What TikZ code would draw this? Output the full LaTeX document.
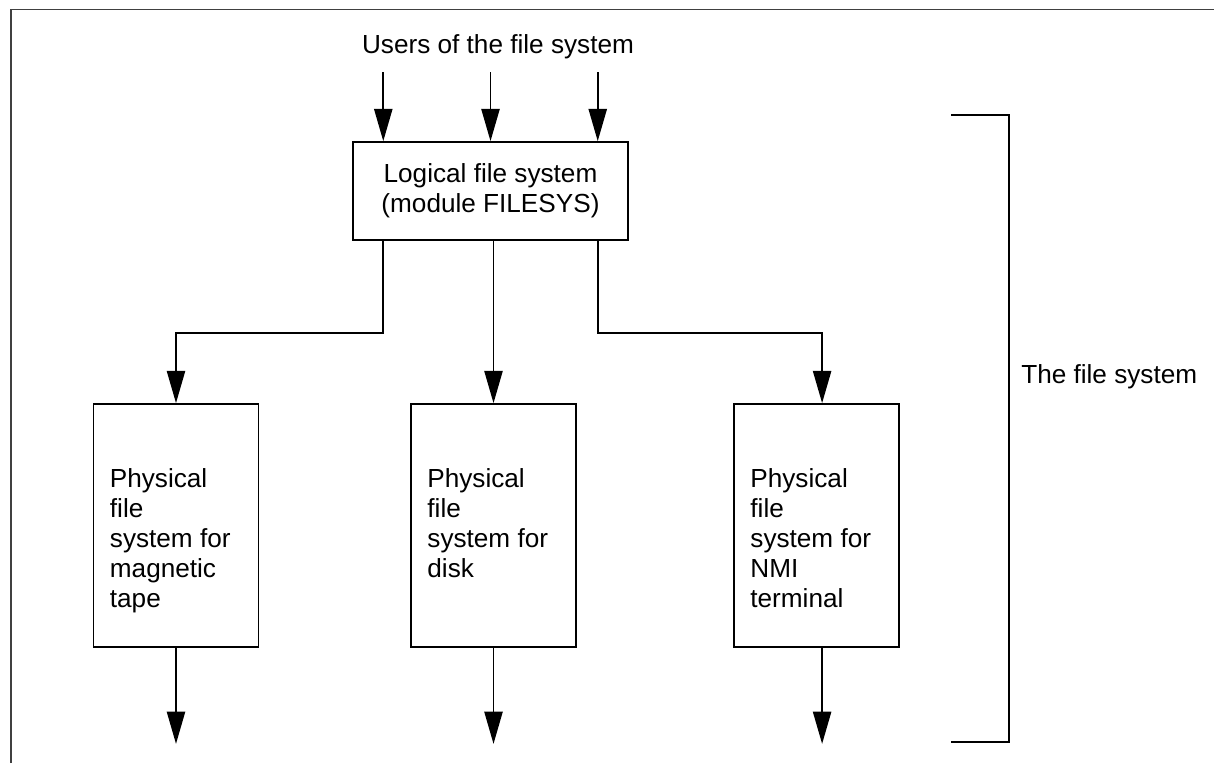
\documentclass[tikz,border=0pt]{standalone}
\usepackage{fontspec}
\setmainfont{Liberation Sans}
\usetikzlibrary{arrows.meta, positioning, calc}

\begin{document}
\begin{tikzpicture}[x=0.025cm, y=-0.025cm,
  font=\fontsize{18.6}{21.4}\selectfont,
  >={Triangle[length=23pt, width=13pt]},
  link/.style={->, line width=1.2pt},
  box/.style={draw, line width=1.2pt, inner sep=0pt},
  phys/.style={box, minimum width=4.125cm, minimum height=6.075cm},
  lbl/.style={align=left, inner sep=0pt, anchor=north west}]
\useasboundingbox (0,0) rectangle (1214,763);
% Frame
\draw[line width=0.9pt, black!75] (11,763) -- (11,9.5) -- (1214,9.5);

% Logical level
\node (users) at (498,47) {Users of the file system};
\node[box, minimum width=6.875cm, minimum height=2.45cm, align=center] (logic) at (490.5,191) {Logical file system\\(module FILESYS)};
\foreach \dx in {-2.68,0,2.68}
  \draw[link] ([xshift=\dx cm, yshift=1.725cm]logic.north) -- ([xshift=\dx cm]logic.north);

% Physical level
\node[phys] (pTape) at (176,525.5) {};
\node[phys] (pDisk) at (493.5,525.5) {};
\node[phys] (pNmi) at (816.5,525.5) {};
\node[lbl, below right=1.625cm and 0.425cm of pTape.north west] (tTape) {Physical\\file\\system for\\magnetic\\tape};
\node[lbl, below right=1.625cm and 0.425cm of pDisk.north west] (tDisk) {Physical\\file\\system for\\disk};
\node[lbl, below right=1.625cm and 0.425cm of pNmi.north west] (tNmi) {Physical\\file\\system for\\NMI\\terminal};

\draw[link] ([xshift=-2.68cm]logic.south) -- ++(0,92) -| (pTape.north);
\draw[link] (logic.south -| pDisk.north) -- (pDisk.north);
\draw[link] ([xshift=2.68cm]logic.south) -- ++(0,92) -| ([xshift=0.14cm]pNmi.north);

\draw[link] (pTape.south) -- ++(0,96);
\draw[link] (pDisk.south) -- ++(0,96);
\draw[link] ([xshift=0.14cm]pNmi.south) -- ++(0,96);

% Bracket
\draw[line width=2.1pt] (951,115) -- (1009,115) -- (1009,742) -- (951,742);
\node[anchor=west, inner sep=0pt] (fsys) at (1021,377) {The file system};
\end{tikzpicture}
\end{document}
